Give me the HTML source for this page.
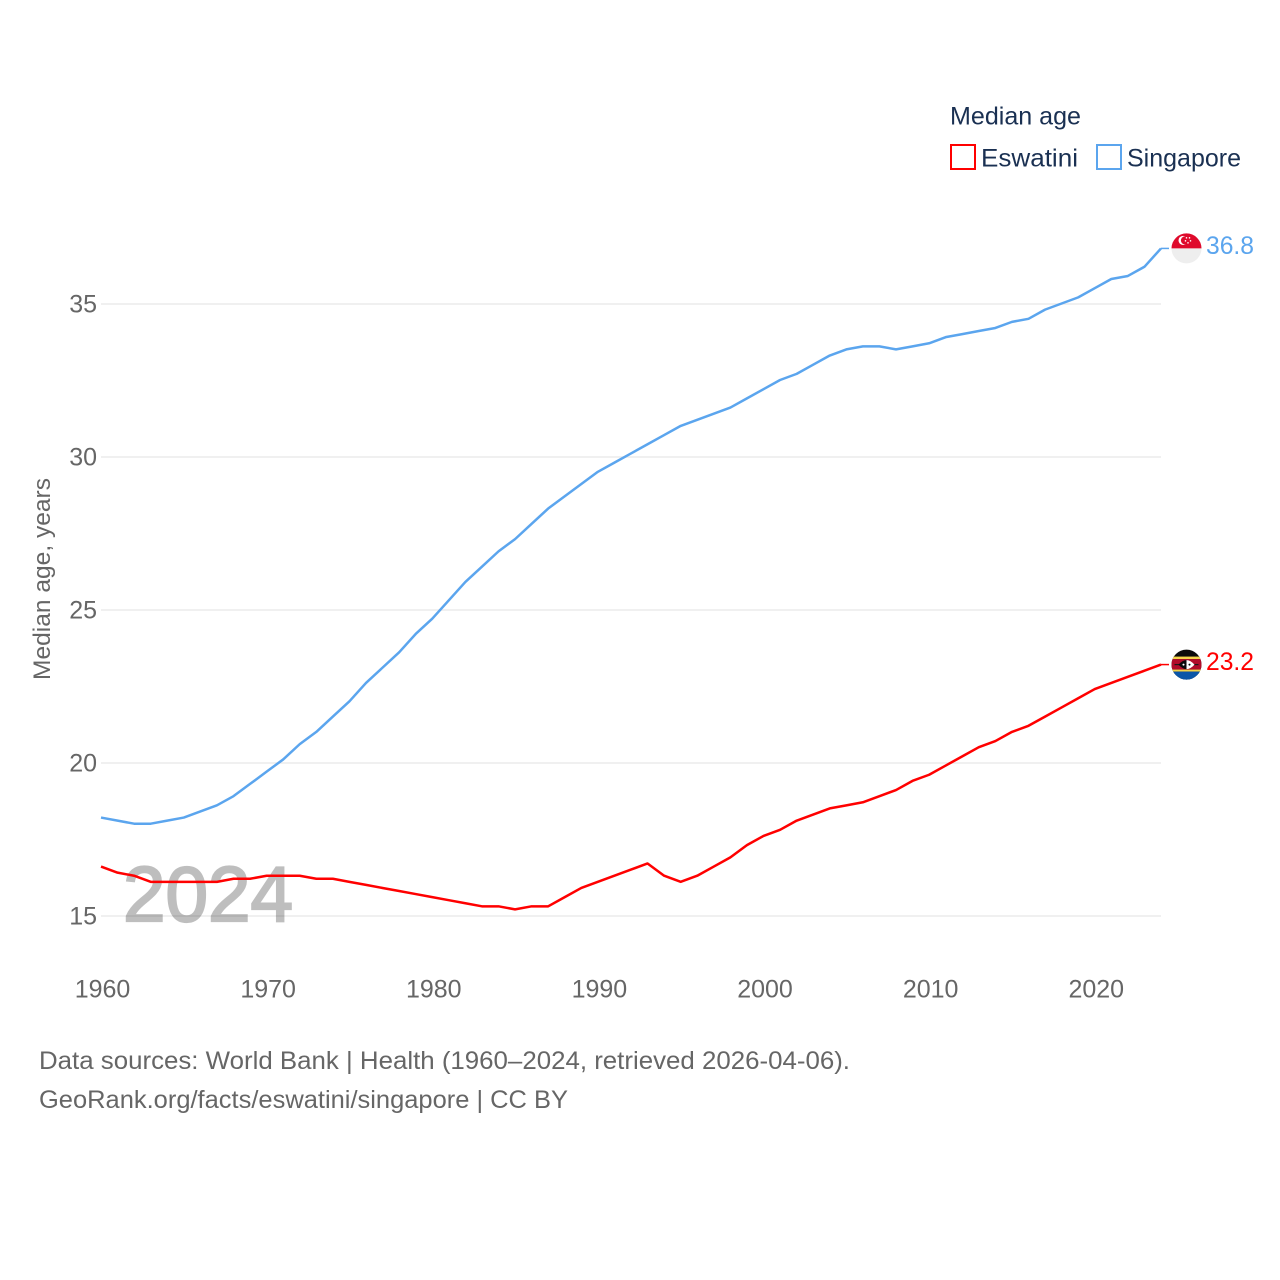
<!DOCTYPE html>
<html lang="en">
<head>
<meta charset="utf-8">
<title>Median age: Eswatini and Singapore</title>
<style>
html,body{margin:0;padding:0;background:#fff;width:1280px;height:1280px;overflow:hidden}
svg{display:block}
text{font-family:"Liberation Sans",sans-serif}
</style>
</head>
<body>
<svg id="chart" xmlns="http://www.w3.org/2000/svg" width="1280" height="1280" viewBox="0 0 1280 1280">
  <defs>
    <clipPath id="flag-clip"><circle cx="0" cy="0" r="15"></circle></clipPath>
  </defs>
  <rect x="0" y="0" width="1280" height="1280" fill="#fff"></rect>
  <g id="grid"></g>
  <text x="123" y="921" font-size="78" fill="#000" stroke="#000" stroke-width="2.2" opacity="0.25" textLength="170" lengthAdjust="spacingAndGlyphs">2024</text>
  <g id="y-ticks"></g>
  <g id="x-ticks"></g>
  <text transform="translate(50,680) rotate(-90)" font-size="24" fill="#666666" textLength="202" lengthAdjust="spacingAndGlyphs">Median age, years</text>
  <g id="series"></g>

  <g id="flag-singapore">
    <g clip-path="url(#flag-clip)">
      <rect x="-16" y="-16" width="32" height="16" fill="#df0a2c"></rect>
      <rect x="-16" y="0" width="32" height="16" fill="#eeeeee"></rect>
      <circle cx="-3.4" cy="-8" r="4.6" fill="#fff"></circle>
      <circle cx="-1.6" cy="-8" r="4" fill="#df0a2c"></circle>
      <circle cx="0" cy="-10.6" r="0.8" fill="#fff"></circle>
      <circle cx="3" cy="-10.6" r="0.8" fill="#fff"></circle>
      <circle cx="4" cy="-7.6" r="0.8" fill="#fff"></circle>
      <circle cx="-1" cy="-7.6" r="0.8" fill="#fff"></circle>
      <circle cx="1.5" cy="-5.6" r="0.8" fill="#fff"></circle>
    </g>
  </g>
  <g id="flag-eswatini">
    <g clip-path="url(#flag-clip)">
      <rect x="-16" y="-16" width="32" height="32" fill="#0a0a0a"></rect>
      <rect x="-16" y="-8" width="32" height="2.5" fill="#f3d34a"></rect>
      <rect x="-16" y="-5.500" width="32" height="10.500" fill="#b10c2a"></rect>
      <rect x="-16" y="5" width="32" height="2" fill="#f3d34a"></rect>
      <rect x="-16" y="7" width="32" height="9" fill="#0b56a8"></rect>
      <rect x="-12" y="-0.6" width="24" height="1.2" fill="#1a1a1a"></rect>
      <path d="M-8 0 Q-4 -4.500 0 -4.500 L0 4.500 Q-4 4.500 -8 0Z" fill="#0a0a0a"></path>
      <path d="M8 0 Q4 -4.500 0 -4.500 L0 4.500 Q4 4.500 8 0Z" fill="#ffffff"></path>
      <circle cx="3" cy="0" r="1" fill="#0a0a0a"></circle>
      <circle cx="-3" cy="0" r="1" fill="#ffffff"></circle>
    </g>
  </g>
  <g id="end-labels"></g>

  <g>
    <text x="950" y="124.500" font-size="25" fill="#1a3052" textLength="131" lengthAdjust="spacingAndGlyphs">Median age</text>
    <g>
      <rect x="951" y="145" width="24" height="24" fill="none" stroke="#ff0000" stroke-width="2"></rect>
      <text x="981" y="166.500" font-size="25" fill="#1a3052" textLength="97" lengthAdjust="spacingAndGlyphs">Eswatini</text>
    </g>
    <g>
      <rect x="1097" y="145" width="24" height="24" fill="none" stroke="#5ba5ee" stroke-width="2"></rect>
      <text x="1127" y="166.500" font-size="25" fill="#1a3052" textLength="114" lengthAdjust="spacingAndGlyphs">Singapore</text>
    </g>
  </g>

  <text x="39" y="1069" font-size="25" fill="#666666" textLength="811" lengthAdjust="spacingAndGlyphs">Data sources: World Bank | Health (1960–2024, retrieved 2026-04-06).</text>
  <text x="39" y="1108" font-size="25" fill="#666666" textLength="529" lengthAdjust="spacingAndGlyphs">GeoRank.org/facts/eswatini/singapore | CC BY</text>
</svg>
<script>
const years = [];
for (let yr = 1960; yr <= 2024; yr++) years.push(yr);
const eswatiniValues = [
  16.6,16.4,16.3,16.1,16.1,16.1,16.1,16.1,16.2,16.2,
  16.3,16.3,16.3,16.2,16.2,16.1,16.0,15.9,15.8,15.7,
  15.6,15.5,15.4,15.3,15.3,15.2,15.3,15.3,15.6,15.9,
  16.1,16.3,16.5,16.7,16.3,16.1,16.3,16.6,16.9,17.3,
  17.6,17.8,18.1,18.3,18.5,18.6,18.7,18.9,19.1,19.4,
  19.6,19.9,20.2,20.5,20.7,21.0,21.2,21.5,21.8,22.1,
  22.4,22.6,22.8,23.0,23.2
];
const singaporeValues = [
  18.2,18.1,18.0,18.0,18.1,18.2,18.4,18.6,18.9,19.3,
  19.7,20.1,20.6,21.0,21.5,22.0,22.6,23.1,23.6,24.2,
  24.7,25.3,25.9,26.4,26.9,27.3,27.8,28.3,28.7,29.1,
  29.5,29.8,30.1,30.4,30.7,31.0,31.2,31.4,31.6,31.9,
  32.2,32.5,32.7,33.0,33.3,33.5,33.6,33.6,33.5,33.6,
  33.7,33.9,34.0,34.1,34.2,34.4,34.5,34.8,35.0,35.2,
  35.5,35.8,35.9,36.2,36.8
];
const yTickLabels = [15, 20, 25, 30, 35];
const xTickLabels = [1960, 1970, 1980, 1990, 2000, 2010, 2020];

const NS = 'http://www.w3.org/2000/svg';
const xScale = function (year) { return 101 + (year - 1960) * (1161 - 101) / 64; };
const yScale = function (value) { return 916 - (value - 15) * (916 - 304) / 20; };

function make(tag, parent) {
  const el = document.createElementNS(NS, tag);
  parent.appendChild(el);
  return el;
}

const gridLayer = document.getElementById('grid');
const yTickLayer = document.getElementById('y-ticks');
yTickLabels.forEach(function (tick) {
  const line = make('line', gridLayer);
  
  
  line.setAttribute('x1', 101);
  line.setAttribute('x2', 1161);
  line.setAttribute('y1', yScale(tick));
  line.setAttribute('y2', yScale(tick));
  line.setAttribute('stroke', '#ebebeb');
  line.setAttribute('stroke-width', 1.5);
  const label = make('text', yTickLayer);
  
  
  label.setAttribute('x', 97);
  label.setAttribute('y', yScale(tick) + 8.5);
  label.setAttribute('text-anchor', 'end');
  label.setAttribute('font-size', 25);
  label.setAttribute('fill', '#666666');
  label.textContent = tick;
});

const xTickLayer = document.getElementById('x-ticks');
xTickLabels.forEach(function (tick) {
  const label = make('text', xTickLayer);
  
  
  label.setAttribute('x', xScale(tick) + 1.5);
  label.setAttribute('y', 997.5);
  label.setAttribute('text-anchor', 'middle');
  label.setAttribute('font-size', 25);
  label.setAttribute('fill', '#666666');
  label.textContent = tick;
});

const seriesLayer = document.getElementById('series');
const endLayer = document.getElementById('end-labels');
function drawSeries(values, color, flagId) {
  const line = make('polyline', seriesLayer);
  
  
  line.setAttribute('fill', 'none');
  line.setAttribute('stroke', color);
  line.setAttribute('stroke-width', 2.5);
  line.setAttribute('stroke-linejoin', 'round');
  line.setAttribute('points', values.map(function (v, i) {
    return xScale(years[i]).toFixed(2) + ',' + (yScale(v) - 0.5).toFixed(2);
  }).join(' '));
  const last = values[values.length - 1];
  const lastY = yScale(last) - 0.5;
  const connector = make('line', seriesLayer);
  
  
  connector.setAttribute('x1', xScale(2024));
  connector.setAttribute('x2', 1169);
  connector.setAttribute('y1', lastY);
  connector.setAttribute('y2', lastY);
  connector.setAttribute('stroke', color);
  connector.setAttribute('stroke-width', 1.5);
  document.getElementById(flagId).setAttribute('transform', 'translate(1186.5,' + lastY + ')');
  const label = make('text', endLayer);
  
  
  label.setAttribute('x', 1206);
  label.setAttribute('y', lastY + 5.5);
  label.setAttribute('font-size', 25);
  label.setAttribute('fill', color);
  label.setAttribute('textLength', 48);
  label.setAttribute('lengthAdjust', 'spacingAndGlyphs');
  label.textContent = last.toFixed(1);
}
drawSeries(singaporeValues, '#5ba5ee', 'flag-singapore');
drawSeries(eswatiniValues, '#ff0000', 'flag-eswatini');
</script>
</body>
</html>
